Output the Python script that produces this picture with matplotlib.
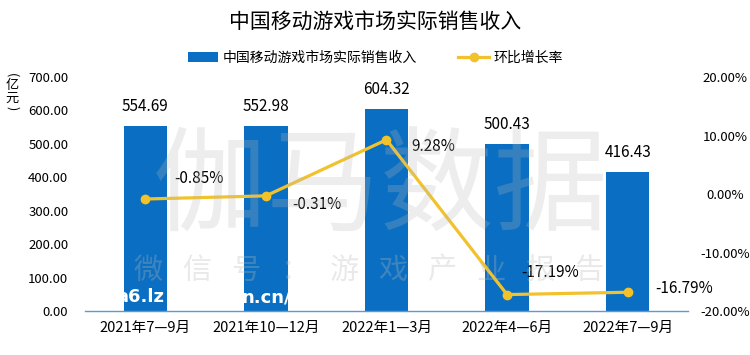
import matplotlib.pyplot as plt
from matplotlib.ticker import FormatStrFormatter

plt.rcParams['font.family'] = ['Noto Sans CJK SC', 'DejaVu Sans']

periods = ['2021年7—9月', '2021年10—12月', '2022年1—3月', '2022年4—6月', '2022年7—9月']
revenue = [554.69, 552.98, 604.32, 500.43, 416.43]
growth = [-0.85, -0.31, 9.28, -17.19, -16.79]

bar_color = '#0A6FC2'
line_color = '#F2C22C'

fig = plt.figure(figsize=(7.5, 3.55), dpi=100)
ax = fig.add_axes([0.1133, 0.1239, 0.804, 0.659])
ax2 = ax.twinx()

x = list(range(len(periods)))
bars = ax.bar(x, revenue, width=0.36, color=bar_color, zorder=2,
              label='中国移动游戏市场实际销售收入')
ax.set_xlim(-0.5, 4.5)
ax.set_ylim(0, 700)
ax.set_yticks(range(0, 701, 100))
ax.yaxis.set_major_formatter(FormatStrFormatter('%.2f'))
ax.set_xticks(x)
ax.set_xticklabels(periods)
ax.tick_params(axis='y', length=0, labelsize=9.5, pad=12)
ax.tick_params(axis='x', length=0, pad=7, labelsize=10.5)
for s in ['top', 'right', 'left']:
    ax.spines[s].set_visible(False)
ax.spines['bottom'].set_color('#5B9BD5')
ax.spines['bottom'].set_linewidth(1)

for xi, v in zip(x, revenue):
    ax.annotate(f'{v:.2f}', (xi, v), xytext=(0, 14), textcoords='offset points',
                ha='center', va='center', fontsize=11, zorder=5)

line, = ax2.plot(x, growth, color=line_color, lw=2.3, marker='o', ms=6,
                 label='环比增长率', zorder=4)
ax2.set_ylim(-20, 20)
ax2.set_yticks([-20, -10, 0, 10, 20])
ax2.yaxis.set_major_formatter(FormatStrFormatter('%.2f%%'))
ax2.tick_params(axis='y', length=0, labelsize=9.5, pad=27)
for lab in ax2.get_yticklabels():
    lab.set_ha('center')
for s in ['top', 'right', 'left', 'bottom']:
    ax2.spines[s].set_visible(False)

# growth labels, offsets in points from each point
offsets = [(21, 15), (19, -6.5), (18, -5), (10, 16), (20, 3)]
for xi, g, (dx, dy) in zip(x, growth, offsets):
    ax2.annotate(f'{g:.2f}%', (xi, g), xytext=(dx, dy), textcoords='offset points',
                 ha='left', va='center', fontsize=11, zorder=6)

# watermark
fig.text(0.507, 0.465, '伽马数据', fontsize=82, color='#B8B8B8', alpha=0.25,
         ha='center', va='center', fontweight='light', zorder=8)
wm = '微信号：游戏产业报告'
for i, ch in enumerate(wm):
    fig.text((148 + 49 * i) / 750, 0.238, ch, fontsize=21, color='#B8B8B8',
             alpha=0.3, ha='center', va='center', fontweight='light', zorder=8)
fig.text(0.155, 0.163, 'a6.lz', fontsize=13, color='white', fontweight='bold',
         family='DejaVu Sans', ha='left', va='center', zorder=10)
fig.text(0.388, 0.163, 'n.cn/', fontsize=13, color='white', fontweight='bold',
         family='DejaVu Sans', ha='right', va='center', zorder=10)

fig.suptitle('中国移动游戏市场实际销售收入', y=0.938, va='center', fontsize=15)
fig.legend(handles=[bars, line], loc='center', bbox_to_anchor=(0.5, 0.838), ncol=2,
           frameon=False, fontsize=10, handlelength=2.2, columnspacing=3,
           handletextpad=0.3)

# vertical unit label
fig.text(0.016, 0.788, '(', rotation=-90, fontsize=9, ha='center', va='center')
fig.text(0.016, 0.758, '亿', fontsize=9.5, ha='center', va='center')
fig.text(0.016, 0.724, '元', fontsize=9.5, ha='center', va='center')
fig.text(0.016, 0.695, ')', rotation=-90, fontsize=9, ha='center', va='center')

plt.savefig('out.png', dpi=100)
